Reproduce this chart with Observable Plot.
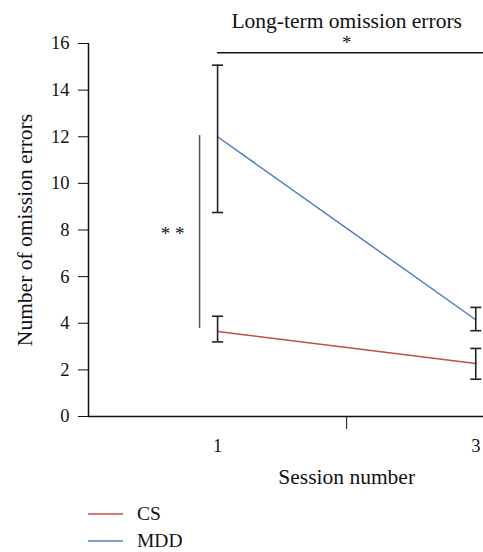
<!DOCTYPE html>
<html>
<head>
<meta charset="utf-8">
<script src="https://cdn.jsdelivr.net/npm/d3@7"></script>
<script src="https://cdn.jsdelivr.net/npm/@observablehq/plot@0.6"></script>
<style>
  html, body { margin: 0; padding: 0; background: #fff; }
  #chart { width: 483px; font-family: "Liberation Serif", serif; }
  #chart svg, #chart svg text { font-family: "Liberation Serif", serif !important; }
  #legend { padding: 5px 0 0 88px; font-family: "Liberation Serif", serif; font-size: 19.5px; color: #111; }
  .item { display: flex; align-items: center; height: 27.5px; }
  .sw { display: block; width: 35px; height: 4px; margin-right: 14px; }
</style>
</head>
<body>
<div id="chart"></div>
<script>
// ---- data ----
const groups = ["CS", "MDD"];
const colors = ["#c0504d", "#4f81bd"];
const sessions = [1, 3];
const csMean = [3.65, 2.27];
const csLow = [3.2, 1.6];
const csHigh = [4.3, 2.92];
const mddMean = [12.0, 4.15];
const mddLow = [8.75, 3.68];
const mddHigh = [15.07, 4.68];
const yTicks = [0, 2, 4, 6, 8, 10, 12, 14, 16];
const xLabelTicks = [1, 3];
const xMarkTicks = [2];
const titleText = "Long-term omission errors";
const xLabel = "Session number";
const yLabel = "Number of omission errors";
const sigTop = [{x1: 1, x2: 3.06, y: 15.6, label: "*"}];
const sigSide = [{x: 1, y1: 3.78, y2: 12.05, label: "* *"}];

const rows = [];
sessions.forEach((s, i) => {
  rows.push({group: "CS", session: s, mean: csMean[i], low: csLow[i], high: csHigh[i]});
  rows.push({group: "MDD", session: s, mean: mddMean[i], low: mddLow[i], high: mddHigh[i]});
});

const cap = {draw(ctx, size) { const r = Math.sqrt(size / Math.PI); ctx.moveTo(-r, 0); ctx.lineTo(r, 0); }};

const plot = Plot.plot({
  width: 483,
  height: 495,
  marginTop: 43,
  marginBottom: 79,
  marginLeft: 88,
  marginRight: 0,
  style: {fontFamily: "'Liberation Serif', serif", fontSize: "18px", color: "#111", overflow: "visible"},
  x: {domain: [0, 3.06]},
  y: {domain: [0, 16]},
  color: {domain: groups, range: colors},
  marks: [
    Plot.axisY({ticks: yTicks, tickSize: 10, tickPadding: 9, label: null, fontSize: 18.5}),
    Plot.axisX({ticks: xMarkTicks, tickSize: 13, tickFormat: () => "", label: null}),
    Plot.axisX({ticks: xLabelTicks, tickSize: 0, tickPadding: 22, tickFormat: d3.format("d"), label: null, fontSize: 18.5}),
    Plot.ruleX([0], {stroke: "#111", strokeWidth: 1.5}),
    Plot.ruleY([0], {stroke: "#111", strokeWidth: 1.5}),
    Plot.line(rows, {x: "session", y: "mean", z: "group", stroke: "group", strokeWidth: 1.5}),
    Plot.ruleX(rows, {x: "session", y1: "low", y2: "high", stroke: "#222", strokeWidth: 1.6}),
    Plot.dot(rows, {x: "session", y: "low", symbol: cap, r: 5.5, stroke: "#222", strokeWidth: 1.6, fill: "none"}),
    Plot.dot(rows, {x: "session", y: "high", symbol: cap, r: 5.5, stroke: "#222", strokeWidth: 1.6, fill: "none"}),
    Plot.ruleY(sigTop, {y: "y", x1: "x1", x2: "x2", stroke: "#111", strokeWidth: 1.5}),
    Plot.text(sigTop, {x: d => (d.x1 + 3) / 2, frameAnchor: "top", text: "label", dy: -8, fontSize: 19}),
    Plot.text([titleText], {x: () => 2, frameAnchor: "top", text: d => d, dy: -31, fontSize: 21.5}),
    Plot.ruleX(sigSide, {x: "x", y1: "y1", y2: "y2", dx: -18, stroke: "#555", strokeWidth: 1.5}),
    Plot.text(sigSide, {x: "x", y: d => (d.y1 + d.y2) / 2, text: "label", dx: -45, dy: 2, fontSize: 19}),
    Plot.text([xLabel], {x: () => 2, frameAnchor: "bottom", text: d => d, dy: 67, fontSize: 21.5}),
    Plot.text([yLabel], {frameAnchor: "left", text: d => d, rotate: -90, textAnchor: "middle", dx: -63, fontSize: 21.5})
  ]
});
document.getElementById("chart").appendChild(plot);

const legend = document.createElement("div");
legend.id = "legend";
groups.forEach((g, i) => {
  const item = document.createElement("div");
  item.className = "item";
  const sw = document.createElementNS("http://www.w3.org/2000/svg", "svg");
  sw.setAttribute("class", "sw");
  sw.setAttribute("width", "35");
  sw.setAttribute("height", "4");
  const ln = document.createElementNS("http://www.w3.org/2000/svg", "line");
  ln.setAttribute("x1", "0"); ln.setAttribute("x2", "35");
  ln.setAttribute("y1", "2"); ln.setAttribute("y2", "2");
  ln.setAttribute("stroke", colors[i]);
  ln.setAttribute("stroke-width", "1.5");
  sw.appendChild(ln);
  const t = document.createElement("span");
  t.textContent = g;
  item.appendChild(sw);
  item.appendChild(t);
  legend.appendChild(item);
});
document.getElementById("chart").appendChild(legend);
</script>
</body>
</html>
